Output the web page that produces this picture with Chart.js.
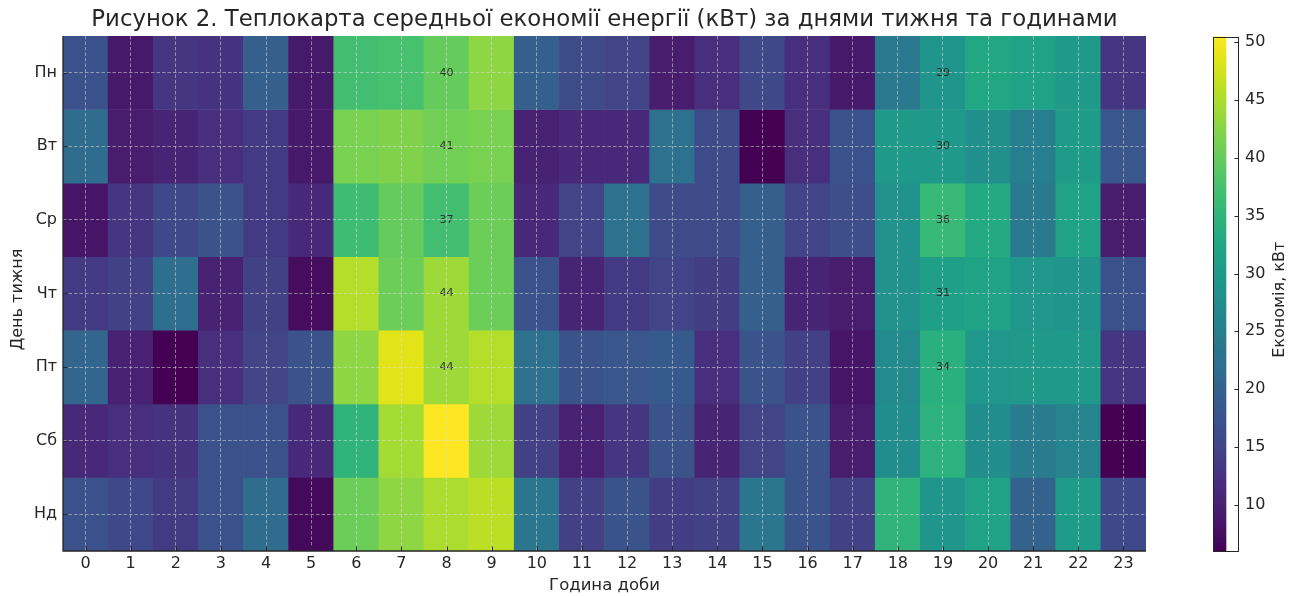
<!DOCTYPE html>
<html lang="uk">
<head>
<meta charset="utf-8">
<title>Теплокарта економії енергії</title>
<script src="https://cdn.jsdelivr.net/npm/chart.js@4.4.1/dist/chart.umd.min.js"></script>
<style>
  html, body { margin: 0; padding: 0; background: #ffffff; }
  #wrap { position: relative; width: 1301px; height: 596px; }
  #heat { position: absolute; left: 0; top: 0; }
  #cbar { position: absolute; left: 1190px; top: 0; }
</style>
</head>
<body>
<div id="wrap">
  <canvas id="heat" width="1301" height="596"></canvas>
  <canvas id="cbar" width="111" height="596"></canvas>
</div>
<script>
// Days of the week (rows) and hours of the day (columns)
const days = ['Пн', 'Вт', 'Ср', 'Чт', 'Пт', 'Сб', 'Нд'];
const hours = ['0','1','2','3','4','5','6','7','8','9','10','11','12','13','14','15','16','17','18','19','20','21','22','23'];

// Average energy savings, kW, per hour for each day
const mon = [17, 9, 13, 12.5, 19.5, 9, 37, 37.5, 40, 43, 19.5, 16, 15, 9.5, 12, 15.5, 12, 9, 24, 29, 32.5, 31.5, 30, 13];
const tue = [21.5, 9.5, 10.5, 12, 13.5, 9, 41.5, 42, 41, 41.5, 10, 11, 11, 22.5, 16, 6, 12, 17, 30, 30, 28, 25, 30.5, 18];
const wed = [8.5, 13, 15.5, 17.5, 13.5, 11, 36.5, 40, 37, 40.5, 11, 15, 22.5, 16, 16, 19.5, 15, 16.5, 28.5, 36, 33, 24, 31.5, 9.5];
const thu = [13.5, 14.5, 22, 10, 14.5, 7.5, 45.5, 40.5, 44, 40.5, 17, 10.5, 13.5, 15, 14, 19.5, 10.5, 9.5, 28.5, 31, 31.5, 29.5, 29, 17];
const fri = [20.5, 10, 6, 12, 15, 17.5, 43, 48.5, 44, 45.5, 22.5, 17.5, 18, 18.5, 12, 17.5, 14.5, 8.5, 27, 34, 29.5, 30, 30, 13];
const sat = [11, 12, 12.5, 17, 17, 11, 35, 44.5, 50.5, 44, 14.5, 10, 13, 17.5, 10.5, 15, 17.5, 9.5, 27.5, 34.5, 27.5, 24.5, 26, 6];
const sun = [17, 15.5, 13.5, 17, 21.5, 7, 40.5, 43, 45, 46, 23.5, 14.5, 17.5, 14, 14.5, 23.5, 17.5, 14.5, 35, 29, 31.5, 20, 30.5, 15.5];
const savings = [mon, tue, wed, thu, fri, sat, sun];

// Cells whose value is printed: [day index, hour index]
const annotatedCells = [[0, 8], [0, 19], [1, 8], [1, 19], [2, 8], [2, 19], [3, 8], [3, 19], [4, 8], [4, 19]];

// Colour bar range and ticks
const valueMin = 6.0;
const valueMax = 50.5;
const colorbarTicks = [10, 15, 20, 25, 30, 35, 40, 45, 50];

const TEXT = '#262626';
const FONT = "'DejaVu Sans', sans-serif";
const GRID = 'rgba(225,225,225,0.65)';

// Viridis colormap stops (every 0.05)
const VIRIDIS = ['#440154','#471365','#482475','#463480','#414487','#3b528b','#355f8d','#2f6c8e','#2a788e','#25848e',
                 '#21918c','#1e9c89','#22a884','#2fb47c','#44bf70','#5ec962','#7ad151','#9bd93c','#bddf26','#dfe318','#fde725'];
const hexRgb = h => [parseInt(h.slice(1,3),16), parseInt(h.slice(3,5),16), parseInt(h.slice(5,7),16)];
const VIRIDIS_RGB = VIRIDIS.map(hexRgb);
function viridis(t) {
  t = Math.min(1, Math.max(0, t));
  const pos = t * (VIRIDIS_RGB.length - 1);
  const i = Math.min(VIRIDIS_RGB.length - 2, Math.floor(pos));
  const f = pos - i;
  const a = VIRIDIS_RGB[i], b = VIRIDIS_RGB[i + 1];
  const c = a.map((v, k) => Math.round(v + (b[k] - v) * f));
  return `rgb(${c[0]},${c[1]},${c[2]})`;
}
const colorFor = v => viridis((v - valueMin) / (valueMax - valueMin));

// One floating-bar dataset per day: each cell spans [row, row + 1] on the y axis
const heatDatasets = days.map((d, r) => ({
  label: d,
  data: hours.map(() => [r, r + 1]),
  backgroundColor: savings[r].map(colorFor),
  borderWidth: 0,
  barPercentage: 1,
  categoryPercentage: 1,
  grouped: false
}));

// Axis spines, inward tick marks and the rotated y-axis title
const heatFrame = {
  id: 'heatFrame',
  afterDraw(chart) {
    const { ctx, chartArea: a, scales: { x, y } } = chart;
    ctx.save();
    ctx.strokeStyle = TEXT;
    ctx.lineWidth = 1.3;
    ctx.beginPath();
    ctx.moveTo(a.left, a.top); ctx.lineTo(a.left, a.bottom); ctx.lineTo(a.right, a.bottom);
    ctx.stroke();
    ctx.lineWidth = 1;
    ctx.beginPath();
    x.ticks.forEach((t, i) => {
      const px = Math.round(x.getPixelForTick(i)) + 0.5;
      ctx.moveTo(px, a.bottom); ctx.lineTo(px, a.bottom - 4.5);
    });
    y.ticks.forEach((t, i) => {
      const py = Math.round(y.getPixelForTick(i)) + 0.5;
      ctx.moveTo(a.left, py); ctx.lineTo(a.left + 4.5, py);
    });
    ctx.stroke();
    ctx.translate(17.5, (a.top + a.bottom) / 2 + 6);
    ctx.rotate(-Math.PI / 2);
    ctx.font = `16px ${FONT}`;
    ctx.fillStyle = TEXT;
    ctx.textAlign = 'center';
    ctx.textBaseline = 'middle';
    ctx.fillText('День тижня', 0, 0);
    ctx.restore();
  }
};

// Value labels on selected cells
const cellLabels = {
  id: 'cellLabels',
  afterDatasetsDraw(chart) {
    const { ctx, scales: { x, y } } = chart;
    ctx.save();
    ctx.font = `11px ${FONT}`;
    ctx.fillStyle = 'rgba(38,38,38,0.9)';
    ctx.textAlign = 'center';
    ctx.textBaseline = 'middle';
    annotatedCells.forEach(([r, c]) => {
      const v = savings[r][c];
      ctx.fillText(String(Math.round(v)), x.getPixelForValue(c), y.getPixelForValue(r + 0.5));
    });
    ctx.restore();
  }
};

new Chart(document.getElementById('heat'), {
  type: 'bar',
  data: { labels: hours, datasets: heatDatasets },
  options: {
    responsive: false,
    devicePixelRatio: 1,
    animation: false,
    layout: { padding: { left: 0, right: 155, top: 0, bottom: 0 } },
    plugins: {
      legend: { display: false },
      tooltip: { enabled: false },
      title: {
        display: true,
        fullSize: false,
        text: 'Рисунок 2. Теплокарта середньої економії енергії (кВт) за днями тижня та годинами',
        color: TEXT,
        font: { family: FONT, size: 22.8, weight: 'normal', lineHeight: 1.2 },
        padding: { top: 6, bottom: 2.6 }
      }
    },
    scales: {
      x: {
        type: 'category',
        offset: true,
        grid: { offset: false, drawTicks: false, z: 1, color: GRID, lineWidth: 0.8 },
        border: { display: false, dash: [3.5, 2] },
        ticks: { color: TEXT, font: { family: FONT, size: 16 }, padding: 3, maxRotation: 0, autoSkip: false },
        title: { display: true, text: 'Година доби', color: TEXT, font: { family: FONT, size: 16.5 }, padding: { top: 0, bottom: 0.5 } },
        afterFit(s) { s.height = 45; }
      },
      y: {
        type: 'linear',
        min: 0, max: 7, reverse: true,
        afterBuildTicks(s) { s.ticks = days.map((d, i) => ({ value: i + 0.5 })); },
        grid: { drawTicks: false, z: 1, color: GRID, lineWidth: 0.8 },
        border: { display: false, dash: [3.5, 2] },
        ticks: {
          color: TEXT, font: { family: FONT, size: 16 }, padding: 6,
          callback: v => days[Math.floor(v)]
        },
        title: { display: false },
        afterFit(s) { s.width = 63; }
      }
    }
  },
  plugins: [cellLabels, heatFrame]
});

// Colour bar: a single floating bar filled with the viridis gradient over its value scale
const cbarFrame = {
  id: 'cbarFrame',
  afterDraw(chart) {
    const { ctx, chartArea: a, scales: { y } } = chart;
    ctx.save();
    ctx.strokeStyle = TEXT;
    ctx.lineWidth = 1;
    ctx.strokeRect(Math.round(a.left) + 0.5, Math.round(a.top) + 0.5, Math.round(a.right - a.left) - 1, Math.round(a.bottom - a.top) - 1);
    ctx.beginPath();
    y.ticks.forEach((t, i) => {
      const py = Math.round(y.getPixelForTick(i)) + 0.5;
      ctx.moveTo(a.right, py); ctx.lineTo(a.right - 4.5, py);
    });
    ctx.stroke();
    // colour bar label, reading bottom to top
    ctx.translate(a.right + 41, (a.top + a.bottom) / 2 + 6);
    ctx.rotate(-Math.PI / 2);
    ctx.font = `16px ${FONT}`;
    ctx.fillStyle = TEXT;
    ctx.textAlign = 'center';
    ctx.textBaseline = 'middle';
    ctx.fillText('Економія, кВт', 0, 0);
    ctx.restore();
  }
};

new Chart(document.getElementById('cbar'), {
  type: 'bar',
  data: {
    labels: [''],
    datasets: [{
      data: [[valueMin, valueMax]],
      borderWidth: 0,
      barPercentage: 1,
      categoryPercentage: 1,
      backgroundColor(ctx) {
        const { chart } = ctx;
        const a = chart.chartArea;
        if (!a) return VIRIDIS[10];
        const ys = chart.scales.y;
        const g = chart.ctx.createLinearGradient(0, ys.getPixelForValue(valueMin), 0, ys.getPixelForValue(valueMax));
        VIRIDIS.forEach((c, i) => g.addColorStop(i / (VIRIDIS.length - 1), c));
        return g;
      }
    }]
  },
  options: {
    responsive: false,
    devicePixelRatio: 1,
    animation: false,
    layout: { padding: { left: 23, right: 0, top: 36.5, bottom: 45 } },
    plugins: { legend: { display: false }, tooltip: { enabled: false } },
    scales: {
      x: { display: false, offset: false },
      y: {
        type: 'linear',
        position: 'right',
        min: valueMin, max: valueMax,
        afterBuildTicks(s) { s.ticks = colorbarTicks.map(v => ({ value: v })); },
        grid: { display: false, drawTicks: false },
        border: { display: false },
        ticks: { color: TEXT, font: { family: FONT, size: 16 }, padding: 6 },
        afterFit(s) { s.width = 62; }
      }
    }
  },
  plugins: [cbarFrame]
});
</script>
</body>
</html>
